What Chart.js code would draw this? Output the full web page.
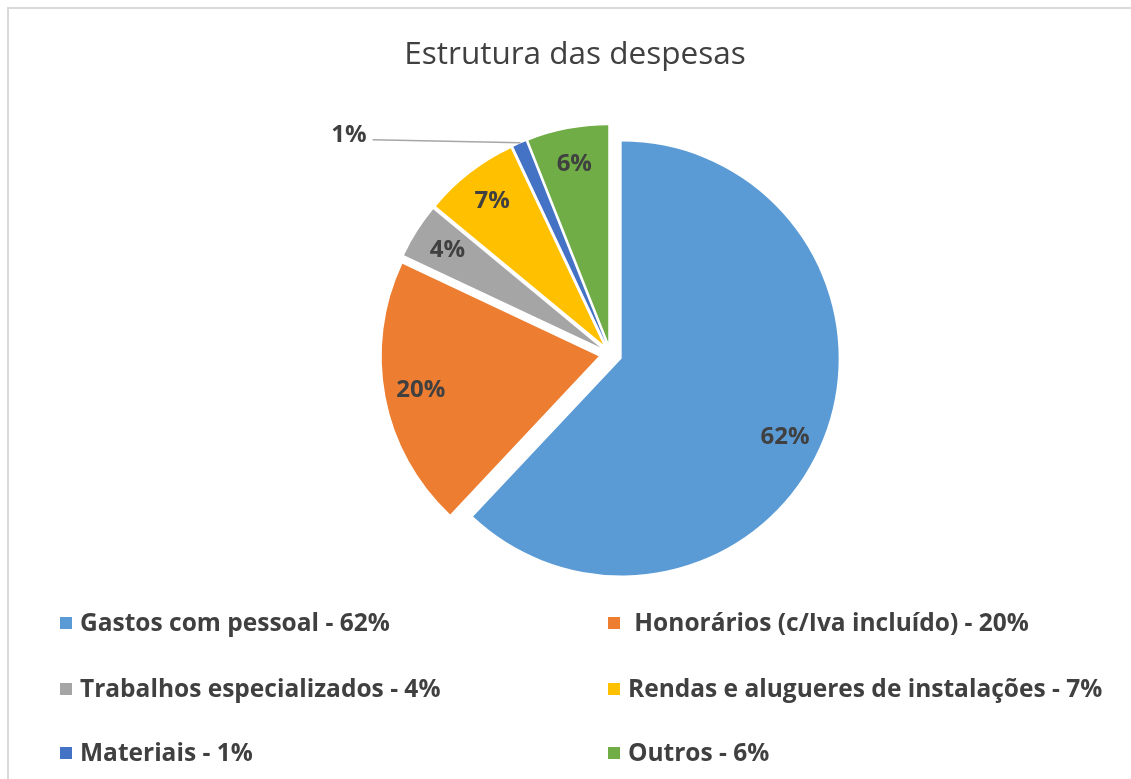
<!DOCTYPE html>
<html>
<head>
<meta charset="utf-8">
<script src="https://cdn.jsdelivr.net/npm/chart.js@4/dist/chart.umd.min.js"></script>
<style>
  html, body { margin: 0; padding: 0; background: #ffffff; overflow: hidden; width: 1131px; height: 779px; }
  #frame { position: absolute; left: 7px; top: 7px; width: 2000px; height: 2000px; border-left: 2px solid #d9d9d9; border-top: 2px solid #d9d9d9; box-sizing: border-box; }
  #c { position: absolute; left: 0; top: 0; }
</style>
</head>
<body>
<div id="frame"></div>
<canvas id="c" width="1131" height="779"></canvas>
<script>
const chartTitle = "Estrutura das despesas";
const categories = ["Gastos com pessoal", " Honorários (c/Iva incluído)", "Trabalhos especializados", "Rendas e alugueres de instalações", "Materiais", "Outros"];
const values = [62, 20, 4, 7, 1, 6];
const sliceColors = ["#5B9BD5", "#ED7D31", "#A5A5A5", "#FFC000", "#4472C4", "#70AD47"];

const EXPLODE = 12;
const RADIUS = 217;
const TEXT_COLOR = "#404040";
const FONT = "'Open Sans', 'DejaVu Sans', sans-serif";

function pctOf(i) {
  const total = values.reduce((a, b) => a + b, 0);
  return Math.round(values[i] / total * 100);
}

const explodePlugin = {
  id: 'explode',
  beforeDatasetDraw(chart, args) {
    const ctx = chart.ctx;
    args.meta.data.forEach(arc => {
      const mid = (arc.startAngle + arc.endAngle) / 2;
      ctx.save();
      ctx.translate(Math.cos(mid) * EXPLODE, Math.sin(mid) * EXPLODE);
      arc.draw(ctx);
      ctx.restore();
    });
    return false;
  }
};

const decorPlugin = {
  id: 'decor',
  afterDraw(chart) {
    const ctx = chart.ctx;
    const meta = chart.getDatasetMeta(0);
    ctx.save();
    // Title
    ctx.fillStyle = TEXT_COLOR;
    ctx.font = "31.5px " + FONT;
    ctx.textAlign = 'center';
    ctx.textBaseline = 'alphabetic';
    ctx.fillText(chartTitle, 575, 63.5);

    // Data labels
    ctx.font = "bold 24px " + FONT;
    meta.data.forEach((arc, i) => {
      const mid = (arc.startAngle + arc.endAngle) / 2;
      const r = arc.outerRadius;
      const cx = arc.x + Math.cos(mid) * EXPLODE;
      const cy = arc.y + Math.sin(mid) * EXPLODE;
      const txt = pctOf(i) + "%";
      if (values[i] >= 2) {
        const d = r * 0.835;
        const a = values[i] > 50 ? mid + 0.07 : mid;
        ctx.textAlign = 'center';
        ctx.textBaseline = 'middle';
        ctx.fillStyle = TEXT_COLOR;
        ctx.fillText(txt, cx + Math.cos(a) * d, cy + Math.sin(a) * d);
      } else {
        const ox = cx + Math.cos(mid) * r;
        const oy = cy + Math.sin(mid) * r;
        const sx = ox - 147, sy = oy - 4;
        ctx.strokeStyle = "#a6a6a6";
        ctx.lineWidth = 1.5;
        ctx.beginPath();
        ctx.moveTo(sx, sy);
        ctx.lineTo(ox + 1, oy - 1);
        ctx.stroke();
        ctx.textAlign = 'right';
        ctx.textBaseline = 'alphabetic';
        ctx.fillStyle = TEXT_COLOR;
        ctx.fillText(txt, sx - 6, sy + 2);
      }
    });

    // Legend (two columns)
    const colX = [60, 608];
    const rowY = [631, 697, 761];
    ctx.font = "bold 24.5px " + FONT;
    ctx.textAlign = 'left';
    ctx.textBaseline = 'alphabetic';
    categories.forEach((name, i) => {
      const x = colX[i % 2];
      const y = rowY[Math.floor(i / 2)];
      ctx.fillStyle = sliceColors[i];
      ctx.fillRect(x, y - 14, 12, 12);
      ctx.fillStyle = TEXT_COLOR;
      ctx.fillText(name + " - " + pctOf(i) + "%", x + 20, y);
    });
    ctx.restore();
  }
};

function build() {
  new Chart(document.getElementById('c'), {
    type: 'pie',
    data: {
      labels: categories,
      datasets: [{
        data: values,
        backgroundColor: sliceColors,
        borderWidth: 0
      }]
    },
    options: {
      responsive: false,
      animation: false,
      devicePixelRatio: 1,
      events: [],
      radius: RADIUS,
      layout: { padding: { left: 150, right: 60, top: 100, bottom: 171 } },
      plugins: {
        legend: { display: false },
        title: { display: false },
        tooltip: { enabled: false }
      }
    },
    plugins: [explodePlugin, decorPlugin]
  });
}

if (document.fonts && document.fonts.load) {
  Promise.all([
    document.fonts.load("31.5px 'Open Sans'"),
    document.fonts.load("bold 24.5px 'Open Sans'")
  ]).then(build, build);
} else {
  build();
}
</script>
</body>
</html>
